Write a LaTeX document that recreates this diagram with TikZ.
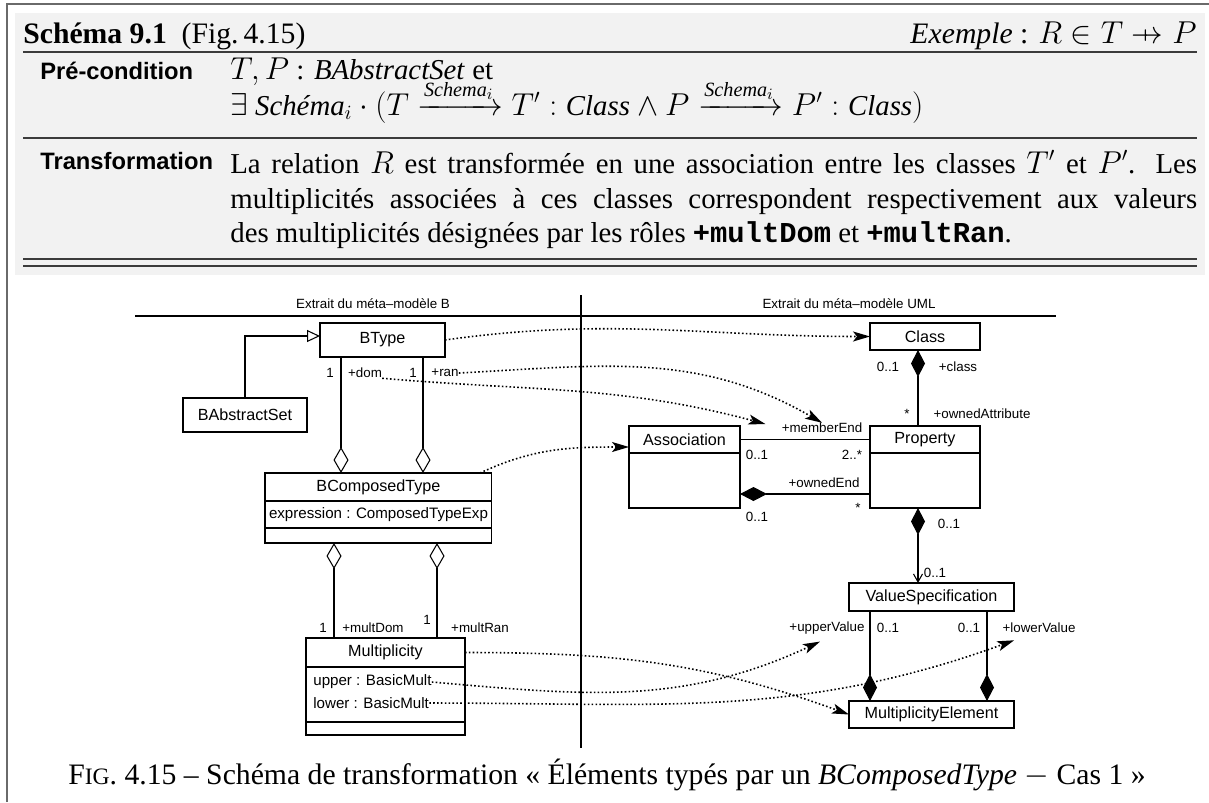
\documentclass[tikz,border=0pt]{standalone}
\usepackage{fix-cm}
\usepackage{amsmath}
\usepackage{amssymb}
\usepackage{fontspec}
\setmainfont{Liberation Serif}
\setsansfont{Liberation Sans}
\setmonofont{Liberation Mono}
\usepackage{tikz}
\usetikzlibrary{arrows.meta,positioning,calc}
\DeclareMathSizes{16.4}{18}{11.5}{9}
\DeclareMathSizes{16.9}{18}{11.5}{9}
\definecolor{schemaBg}{HTML}{F2F2F2}
\definecolor{schemaRule}{HTML}{3C3C3C}
\definecolor{frameGray}{HTML}{6A6A6A}
\newcommand{\pfunarr}{\mathrel{\ooalign{\hfil$\mapstochar\mkern5mu$\hfil\cr$\rightarrow$\cr}}}
\newcommand{\schemaFont}{\fontsize{16.4}{19.9pt}\selectfont}
\newcommand{\schemaTitle}{\fontsize{16.9}{19.9pt}\selectfont}
\newcommand{\schemaHead}{\fontsize{13.5pt}{16pt}\selectfont\sffamily\bfseries}
\newcommand{\umlName}{\fontsize{9.2pt}{11pt}\selectfont\sffamily}
\newcommand{\umlAttr}{\fontsize{8.6pt}{12pt}\selectfont\sffamily}
\newcommand{\umlRole}{\fontsize{7.6pt}{9pt}\selectfont\sffamily}
\tikzset{
  classpart/.style={draw, line width=0.6pt, outer sep=0pt, inner sep=1pt, anchor=north west, font=\umlName},
  attrpart/.style={classpart, font=\umlAttr},
  role/.style={inner sep=0pt, font=\umlRole},
  schemaText/.style={anchor=base west, inner sep=0pt, font=\schemaFont},
  assoc/.style={line width=0.6pt},
  gen/.style={assoc, -{Triangle[open, length=0.26cm, width=0.24cm]}},
  aggrend/.style={assoc, -{Diamond[open, length=0.52cm, width=0.3cm]}},
  aggrstart/.style={assoc, {Diamond[open, length=0.52cm, width=0.3cm]}-},
  compstart/.style={assoc, {Diamond[length=0.54cm, width=0.28cm]}-},
  compend/.style={assoc, -{Diamond[length=0.54cm, width=0.28cm]}},
  compnav/.style={assoc, {Diamond[length=0.54cm, width=0.28cm]}-{Straight Barb[length=0.16cm, width=0.18cm]}},
  trace/.style={line width=0.9pt, dash pattern=on 0.9pt off 1.3pt, -{Stealth[length=0.34cm, width=0.2cm, inset=0.08cm]}},
  rulebar/.style={schemaRule, line width=0.6pt},
}
\begin{document}
\begin{tikzpicture}[x=0.02cm, y=-0.02cm]
\useasboundingbox (0,0) rectangle (1209,802);
% cadre et encadre du schema
\fill[schemaBg] (15,13) rectangle (1205,275);
\draw[frameGray, line width=1.1pt] (7,802) -- (7,4) -- (1209,4);
\node[schemaText, font=\schemaTitle] (schtitle) at (23,43) {\textbf{Schéma 9.1}\enspace(Fig.\,4.15)};
\node[schemaText, font=\schemaTitle, anchor=base east] (example) at (1197,43) {\textit{Exemple} : $R \in T \pfunarr P$};
\draw[rulebar] (23,52) -- (1197,52);
\node[schemaText, font=\schemaHead] (precond) at (40,79) {Pré-condition};
\node[schemaText] (precondA) at (230,79) {$T, P$ : \textit{BAbstractSet} et};
\node[schemaText] (precondB) at (230,115) {$\exists\ \textit{Schéma}_i \cdot (T \xrightarrow{\textit{Schema}_i} T' : \textit{Class} \land P \xrightarrow{\textit{Schema}_i} P' : \textit{Class})$};
\draw[rulebar] (23,138) -- (1197,138);
\node[schemaText, font=\schemaHead] (transfo) at (40,169) {Transformation};
\node[anchor=north west, inner sep=0pt, text width=19.34cm, align=justify, font=\schemaFont] (transfoText) at (230,150)
  {La relation $R$ est transformée en une association entre les classes $T'$ et $P'$. Les\linebreak
   multiplicités associées à ces classes correspondent respectivement aux valeurs\linebreak
   des multiplicités désignées par les rôles \texttt{\bfseries +multDom} et \texttt{\bfseries +multRan}.};
\draw[rulebar] (23,259) -- (1197,259);
\draw[rulebar] (23,266) -- (1197,266);

% les deux meta-modeles
\node[role] (titleB) at (373,304) {Extrait du méta–modèle B};
\node[role] (titleU) at (849,304) {Extrait du méta–modèle UML};
\coordinate (sepTop) at (581,295);
\coordinate (sepBot) at (581,748);
\draw[assoc] (sepTop) -- (sepBot);
\draw[assoc] (135,316) -- (1056,316);

% classes B
\node[classpart, minimum width=2.5cm, minimum height=0.68cm] (btype) at (320,323) {BType};
\node[classpart, minimum width=2.48cm, minimum height=0.68cm] (babs) at (183,398) {BAbstractSet};
\node[classpart, minimum width=4.54cm, minimum height=0.56cm] (bct) at (265,473) {BComposedType};
\node[attrpart, minimum width=4.54cm, minimum height=0.54cm, below=0pt of bct] (bctattr) {expression : ComposedTypeExp};
\node[classpart, minimum width=4.54cm, minimum height=0.3cm, below=0pt of bctattr] (bctops) {};
\node[classpart, minimum width=3.18cm, minimum height=0.58cm] (mult) at (306,638) {Multiplicity};
\node[classpart, minimum width=3.18cm, minimum height=1.1cm, below=0pt of mult] (multattr) {};
\node[classpart, minimum width=3.18cm, minimum height=0.26cm, below=0pt of multattr] (multops) {};
\node[role, font=\umlAttr, anchor=west] (upattr) at (313,682) {upper : BasicMult};
\node[role, font=\umlAttr, anchor=west] (lowattr) at (313,703) {lower : BasicMult};

% classes UML
\node[classpart, minimum width=2.2cm, minimum height=0.54cm] (cls) at (870,323) {Class};
\node[classpart, minimum width=2.2cm, minimum height=0.54cm] (prop) at (870,426) {Property};
\node[classpart, minimum width=2.2cm, minimum height=1.1cm, below=0pt of prop] (propbody) {};
\node[classpart, minimum width=2.22cm, minimum height=0.54cm] (asso) at (629,426) {Association};
\node[classpart, minimum width=2.22cm, minimum height=1.1cm, below=0pt of asso] (assobody) {};
\node[classpart, minimum width=3.3cm, minimum height=0.56cm] (vspec) at (849,583) {ValueSpecification};
\node[classpart, minimum width=3.3cm, minimum height=0.54cm] (melem) at (849,701) {MultiplicityElement};

% colonnes des liens
\coordinate (domx) at (341,0);
\coordinate (ranx) at (423,0);
\coordinate (mdomx) at (334,0);
\coordinate (mranx) at (437,0);
\coordinate (propx) at (918,0);
\coordinate (upx) at (870,0);
\coordinate (lowx) at (987,0);
\coordinate (ownedy) at (0,494);
\coordinate (geny) at (0,336);

\draw[gen] (babs.north) |- (btype.west |- geny);
\draw[aggrend] (btype.south -| domx) -- (bct.north -| domx);
\draw[aggrend] (btype.south -| ranx) -- (bct.north -| ranx);
\draw[aggrstart] (bctops.south -| mdomx) -- (mult.north -| mdomx);
\draw[aggrstart] (bctops.south -| mranx) -- (mult.north -| mranx);
\draw[compstart] (cls.south -| propx) -- (prop.north -| propx);
\draw[assoc] (asso.east) -- (prop.west);
\draw[compstart] (assobody.east |- ownedy) -- (propbody.west |- ownedy);
\draw[compnav] (propbody.south -| propx) -- (vspec.north -| propx);
\draw[compend] (vspec.south -| upx) -- (melem.north -| upx);
\draw[compend] (vspec.south -| lowx) -- (melem.north -| lowx);

% roles et multiplicites
\node[role] (domone) at (330,373) {1};
\node[role] (domlbl) at (365,373) {+dom};
\node[role] (ranone) at (413,373) {1};
\node[role] (ranlbl) at (445,373) {+ran};
\node[role] (mdomone) at (323,628) {1};
\node[role] (mdomlbl) at (373,628) {+multDom};
\node[role] (mranone) at (427,620) {1};
\node[role] (mranlbl) at (480,628) {+multRan};
\node[role] (clsmult) at (888,367) {0..1};
\node[role] (clslbl) at (958,367) {+class};
\node[role] (attrmult) at (907,414) {*};
\node[role] (attrlbl) at (982,414) {+ownedAttribute};
\node[role] (memberlbl) at (822,428) {+memberEnd};
\node[role] (memberasso) at (757,455) {0..1};
\node[role] (memberprop) at (852,455) {2..*};
\node[role] (ownedlbl) at (824,483) {+ownedEnd};
\node[role] (ownedprop) at (858,508) {*};
\node[role] (ownedasso) at (757,517) {0..1};
\node[role] (propvsmult) at (949,524) {0..1};
\node[role] (vsmult) at (935,573) {0..1};
\node[role] (upperlbl) at (827,628) {+upperValue};
\node[role] (uppermult) at (888,628) {0..1};
\node[role] (lowermult) at (969,628) {0..1};
\node[role] (lowerlbl) at (1039,628) {+lowerValue};

% correspondances B -> UML
\draw[trace] (btype.east) to[out=8, in=180] (cls.west);
\draw[trace] (ranlbl.east) to[out=3, in=150] (memberlbl.north);
\draw[trace] (domlbl.south east) to[out=-5, in=165] ([shift={(-0.32cm,0.08cm)}]memberlbl.west);
\draw[trace] ([xshift=-0.24cm]bct.north east) to[out=25, in=180] ([yshift=-0.15cm]asso.west);
\draw[trace] (mult.east) to[out=0, in=160] (melem.west);
\draw[trace] (upattr.east) to[out=-5, in=205] ([shift={(-0.14cm,-0.14cm)}]upperlbl.south);
\draw[trace] (lowattr.east) to[out=0, in=200] ([shift={(0.24cm,-0.14cm)}]lowerlbl.south west);

\node[font=\fontsize{16.9pt}{19pt}\selectfont, inner sep=0pt] (caption) at (607,775)
  {F{\fontsize{13.4pt}{15pt}\selectfont IG}. 4.15 – Schéma de transformation «~Éléments typés par un \textit{BComposedType} $-$ Cas 1~»};
\end{tikzpicture}
\end{document}
